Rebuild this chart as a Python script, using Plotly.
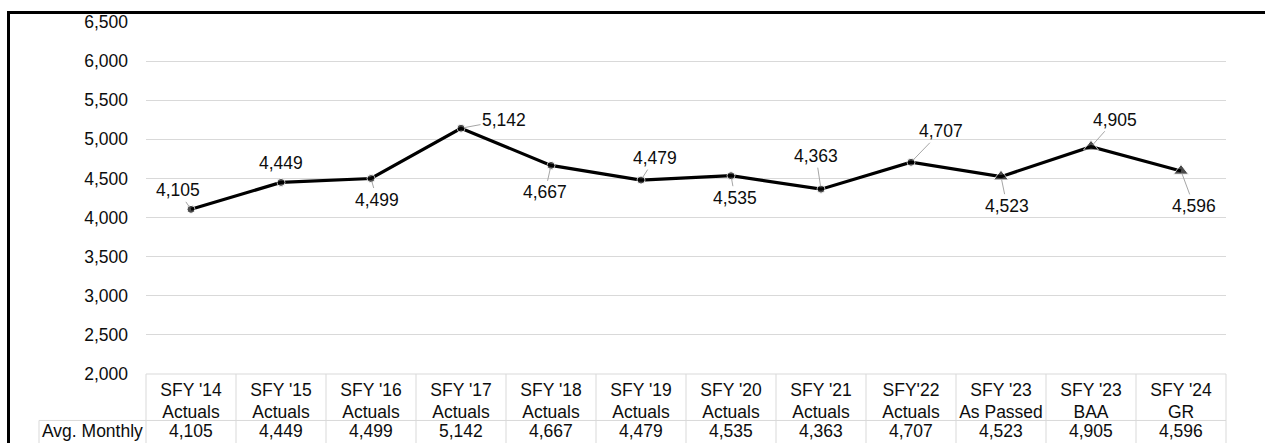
import plotly.graph_objects as go

# Chart data
categories = ["SFY '14<br>Actuals", "SFY '15<br>Actuals", "SFY '16<br>Actuals", "SFY '17<br>Actuals",
              "SFY '18<br>Actuals", "SFY '19<br>Actuals", "SFY '20<br>Actuals", "SFY '21<br>Actuals",
              "SFY'22<br>Actuals", "SFY '23<br>As Passed", "SFY '23<br>BAA", "SFY '24<br>GR"]
avg_monthly = [4105, 4449, 4499, 5142, 4667, 4479, 4535, 4363, 4707, 4523, 4905, 4596]
row_label = "Avg. Monthly"
y_ticks = [2000, 2500, 3000, 3500, 4000, 4500, 5000, 5500, 6000, 6500]

# Presentation: marker symbols (actuals vs. projections) and label placement (pixel offsets)
symbols = ["circle"] * 9 + ["triangle-up"] * 3
sizes = [8] * 9 + [13] * 3
label_dx = [-13, 0, 6, 43, -6, 14, 4, -5, 30, 6, 24, 13]
label_dy = [-19, -19, 21, -8, 27, -22, 22, -33, -31, 29, -27, 35]
leader = [True, False, True, True, True, True, True, True, True, True, True, True]

FONT = "Liberation Sans, Arial, sans-serif"
FS = 17.5
TXT = "#0d0d0d"
GRID = "#d9d9d9"
W, H = 1265, 443
L, R, T, B = 146, 39, 18, 69
PW, PH = W - L - R, H - T - B


def px_x(px):
    return (px - L) / PW


def px_y(py):
    return (H - B - py) / PH


fig = go.Figure()
fig.add_trace(go.Scatter(
    x=categories, y=avg_monthly, mode="lines+markers",
    line=dict(color="black", width=3.2),
    marker=dict(symbol=symbols, size=sizes, color="black"),
    hoverinfo="x+y", showlegend=False,
))

annotations = []
for cat, v, dx, dy, ld in zip(categories, avg_monthly, label_dx, label_dy, leader):
    annotations.append(dict(
        x=cat, y=v, xref="x", yref="y", text=f"{v:,}",
        showarrow=True, ax=dx, ay=dy, arrowhead=0, arrowwidth=1,
        arrowcolor="#a6a6a6" if ld else "rgba(0,0,0,0)", standoff=3,
        font=dict(family=FONT, size=FS, color=TXT),
    ))
    # data table value row
    annotations.append(dict(
        x=cat, y=px_y(432), xref="x", yref="paper", text=f"{v:,}",
        showarrow=False, xanchor="center", yanchor="middle",
        font=dict(family=FONT, size=FS, color=TXT),
    ))
annotations.append(dict(
    x=px_x(92.5), y=px_y(432), xref="paper", yref="paper", text=row_label,
    showarrow=False, xanchor="center", yanchor="middle",
    font=dict(family=FONT, size=FS, color=TXT),
))

shapes = []
line_gray = dict(color=GRID, width=1)
# table grid
shapes.append(dict(type="line", xref="paper", yref="paper", x0=0, x1=1, y0=0, y1=0, line=line_gray))
shapes.append(dict(type="line", xref="paper", yref="paper", x0=px_x(39), x1=1,
                   y0=px_y(421), y1=px_y(421), line=line_gray))
n = len(categories)
for k in range(n + 1):
    shapes.append(dict(type="line", xref="paper", yref="paper", x0=k / n, x1=k / n,
                       y0=0, y1=px_y(450), line=line_gray))
shapes.append(dict(type="line", xref="paper", yref="paper", x0=px_x(39), x1=px_x(39),
                   y0=px_y(421), y1=px_y(450), line=line_gray))
# chart frame (left and top)
shapes.append(dict(type="line", xref="paper", yref="paper", x0=px_x(8.5), x1=px_x(8.5),
                   y0=px_y(8.5), y1=px_y(460), line=dict(color="black", width=3)))
shapes.append(dict(type="line", xref="paper", yref="paper", x0=px_x(7), x1=px_x(1275),
                   y0=px_y(8.5), y1=px_y(8.5), line=dict(color="black", width=3)))

fig.update_layout(
    width=W, height=H,
    margin=dict(l=L, r=R, t=T, b=B, pad=0),
    paper_bgcolor="white", plot_bgcolor="white",
    font=dict(family=FONT, size=FS, color=TXT),
    xaxis=dict(type="category", categoryorder="array", categoryarray=categories,
               range=[-0.5, n - 0.5], showgrid=False, showline=False, zeroline=False,
               ticks="", tickfont=dict(family=FONT, size=FS, color=TXT),
               ticklabelstandoff=3),
    yaxis=dict(range=[2000, 6500], tickvals=y_ticks, tickformat=",",
               showgrid=True, gridcolor=GRID, gridwidth=1, zeroline=False, showline=False,
               ticks="", tickfont=dict(family=FONT, size=FS, color=TXT),
               ticklabelstandoff=17),
    annotations=annotations, shapes=shapes,
)

fig.write_html("out.html")
